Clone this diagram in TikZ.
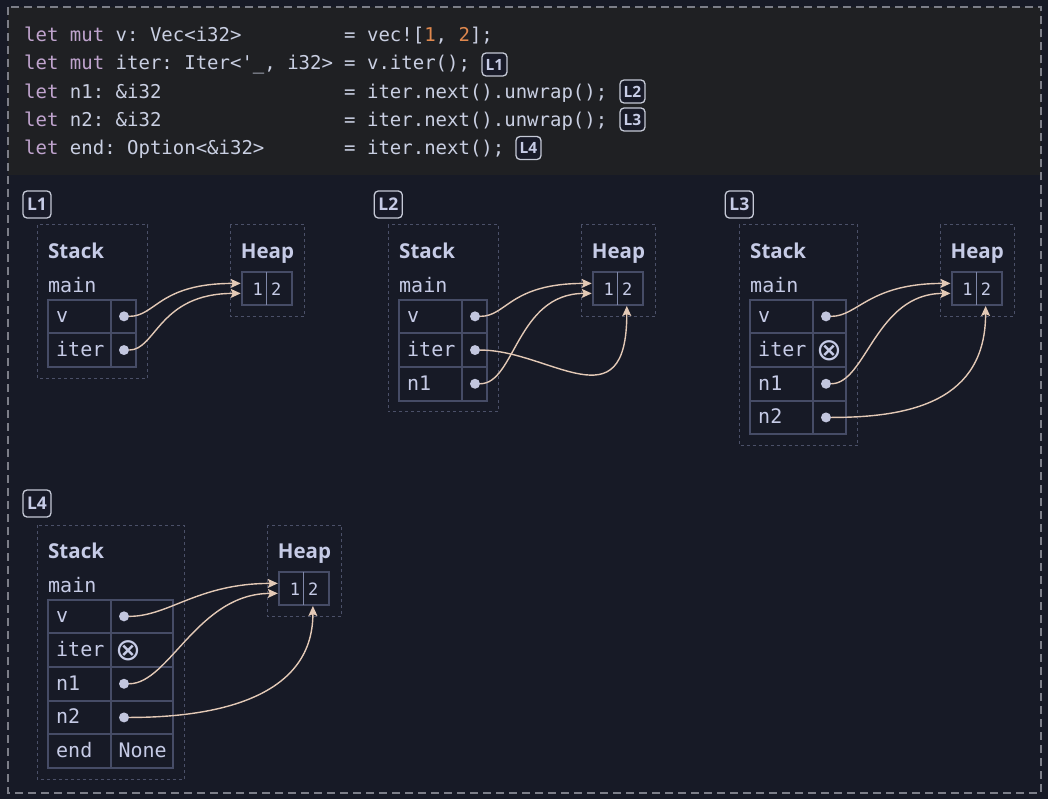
\documentclass[tikz,border=0pt]{standalone}
\usepackage{fontspec}
\setmainfont{Noto Sans}
\newfontfamily\cmono{DejaVu Sans Mono}[Ligatures=TeXOff]
\newfontfamily\symfont{DejaVu Sans}
\IfFontExistsTF{Noto Sans Bold}{\newfontfamily\tfont{Noto Sans Bold}}{%
  \IfFontExistsTF{Open Sans Bold}{\newfontfamily\tfont{Open Sans Bold}}{%
    \newfontfamily\tfont{Noto Sans}[FakeBold=2.5]}}
\usetikzlibrary{arrows.meta}
\definecolor{pagebg}{HTML}{171A26}
\definecolor{codebg}{HTML}{1F2023}
\definecolor{outerc}{HTML}{7C7E88}
\definecolor{framec}{HTML}{4B5068}
\definecolor{cellc}{HTML}{464C66}
\definecolor{divc}{HTML}{8088A8}
\definecolor{txt}{HTML}{C6CBE6}
\definecolor{codefg}{HTML}{C9CFE2}
\definecolor{kwc}{HTML}{C0A4CE}
\definecolor{numc}{HTML}{E0884E}
\definecolor{dotc}{HTML}{C2C6DE}
\definecolor{arrowc}{HTML}{E3C9B6}
\definecolor{badgeline}{HTML}{C5C9D6}
\definecolor{badgebg}{HTML}{181A28}
\newcommand\kw[1]{\textcolor{kwc}{#1}}
\newcommand\nm[1]{\textcolor{numc}{#1}}
\tikzset{
  codetxt/.style={anchor=base west, inner sep=0pt, font=\cmono\frenchspacing\fontsize{19}{19}\selectfont, text=codefg},
  badge/.style={draw=badgeline, line width=1.3pt, rounded corners=4pt, fill=badgebg, text=txt,
    font=\tfont\fontsize{15.5}{15.5}\selectfont, inner sep=0pt, minimum width=25pt, minimum height=23pt},
  sbadge/.style={badge, minimum width=28pt, minimum height=27pt, font=\tfont\fontsize{17.5}{17.5}\selectfont},
  framebox/.style={draw=framec, dash pattern=on 3pt off 3pt, line width=1pt},
  cellline/.style={draw=cellc, line width=2pt},
  divline/.style={draw=divc, line width=0.8pt},
  title/.style={anchor=base west, font=\tfont\fontsize{20.5}{20.5}\selectfont, text=txt, inner sep=0pt},
  lbl/.style={anchor=base west, font=\cmono\fontsize{20}{20}\selectfont, text=txt, inner sep=0pt},
  digit/.style={anchor=base, font=\cmono\fontsize{17}{17}\selectfont, text=txt, inner sep=0pt},
  dot/.style={circle, fill=dotc, inner sep=0pt, minimum size=10pt},
  ptr/.style={draw=arrowc, line width=1.4pt, -{Stealth[length=10pt,width=9pt,inset=2pt]}},
  gone/.style={font=\symfont\fontsize{31}{31}\selectfont, text=txt, inner sep=0pt},
}
% #1 name prefix, #2 right column width, #3 number of rows
\newcommand\StackFrame[3]{%
  \draw[framebox] (37.3,225) rectangle ({110.8+#2+11.6},{299.5+#3*33.7+11.3});
  \node[title] (#1-stack) at (48,258.3) {Stack};
  \node[lbl] (#1-main) at (48,292) {main};
  \draw[cellline] (47.8,299.5) rectangle ({110.8+#2},{299.5+#3*33.7});
  \draw[cellline] (110.8,299.5) -- (110.8,{299.5+#3*33.7});
  \foreach \k in {2,...,#3} {\draw[cellline] (47.8,{299.5+(\k-1)*33.7}) -- ({110.8+#2},{299.5+(\k-1)*33.7});}
}
% #1 name prefix, #2 heap box left
\newcommand\HeapBox[2]{%
  \draw[framebox] (#2,225) rectangle ({#2+74},316.7);
  \node[title, anchor=base] (#1-heap) at ({#2+37.2},258.3) {Heap};
  \draw[cellline] ({#2+11.5},271.7) rectangle ({#2+62.1},305);
  \draw[divline] ({#2+36},271.7) -- ({#2+36},305);
  \node[digit] (#1-one) at ({#2+27.6},295.6) {1};
  \node[digit] (#1-two) at ({#2+46},295.6) {2};
  \coordinate (#1-up) at ({#2+10.5},283.4);
  \coordinate (#1-lo) at ({#2+10.5},293.4);
  \coordinate (#1-bt) at ({#2+45.6},306);
}
\begin{document}
\begin{tikzpicture}[x=1pt,y=-1pt]
\useasboundingbox (0,0) rectangle (1048,799);
\fill[pagebg] (0,0) rectangle (1048,799);
\fill[codebg] (7.5,7) rectangle (1041,175);
\draw[outerc, line width=2pt, dash pattern=on 8pt off 5pt] (7.5,7) rectangle (1041,792.5);

% code
\node[codetxt] (c1l) at (24,41.5) {\kw{let} \kw{mut} v: Vec<i32>};
\node[codetxt] (c2l) at (24,69.8) {\kw{let} \kw{mut} iter: Iter<'\_, i32>};
\node[codetxt] (c3l) at (24,98.2) {\kw{let} n1: \&i32};
\node[codetxt] (c4l) at (24,126.5) {\kw{let} n2: \&i32};
\node[codetxt] (c5l) at (24,154.8) {\kw{let} end: Option<\&i32>};
\node[codetxt] (c1r) at (344,41.5) {= vec![\nm{1}, \nm{2}];};
\node[codetxt] (c2r) at (344,69.8) {= v.iter();};
\node[codetxt] (c3r) at (344,98.2) {= iter.next().unwrap();};
\node[codetxt] (c4r) at (344,126.5) {= iter.next().unwrap();};
\node[codetxt] (c5r) at (344,154.8) {= iter.next();};
\node[badge] (cb1) at (494.5,64.5) {L1};
\node[badge] (cb2) at (632.5,91.5) {L2};
\node[badge] (cb3) at (632.5,119.5) {L3};
\node[badge] (cb4) at (528.5,148) {L4};

% L1
\begin{scope}
\node[sbadge] (a-badge) at (37,204.5) {L1};
\StackFrame{a}{25.3}{2}
\node[lbl] (a-v) at (56,322.85) {v};
\node[lbl] (a-iter) at (56,356.55) {iter};
\node[dot] (a-vd) at (124,316.35) {};
\node[dot] (a-id) at (124,350.05) {};
\HeapBox{a}{230.2}
\draw[ptr] (a-vd) .. controls +(32,0) and +(-82,0) .. (a-up);
\draw[ptr] (a-id) .. controls +(32,0) and +(-82,0) .. (a-lo);
\end{scope}

% L2
\begin{scope}[shift={(351,0)}]
\node[sbadge] (b-badge) at (37.3,204.5) {L2};
\StackFrame{b}{25.3}{3}
\node[lbl] (b-v) at (56,322.85) {v};
\node[lbl] (b-iter) at (56,356.55) {iter};
\node[lbl] (b-n1) at (56,390.25) {n1};
\node[dot] (b-vd) at (124,316.35) {};
\node[dot] (b-id) at (124,350.05) {};
\node[dot] (b-nd) at (124,383.75) {};
\HeapBox{b}{230.2}
\draw[ptr] (b-vd) .. controls +(32,0) and +(-82,0) .. (b-up);
\draw[ptr] (b-id) .. controls +(75,0) and +(0,120) .. (b-bt);
\draw[ptr] (b-nd) .. controls +(40,0) and +(-75,0) .. (b-lo);
\end{scope}

% L3
\begin{scope}[shift={(702,0)}]
\node[sbadge] (c-badge) at (37.3,204.5) {L3};
\StackFrame{c}{33.5}{4}
\node[lbl] (c-v) at (56,322.85) {v};
\node[lbl] (c-iter) at (56,356.55) {iter};
\node[lbl] (c-n1) at (56,390.25) {n1};
\node[lbl] (c-n2) at (56,423.95) {n2};
\node[dot] (c-vd) at (124,316.35) {};
\node[gone] (c-ix) at (127.5,351) {⊗};
\node[dot] (c-n1d) at (124,383.75) {};
\node[dot] (c-n2d) at (124,417.45) {};
\HeapBox{c}{238}
\draw[ptr] (c-vd) .. controls +(32,0) and +(-82,0) .. (c-up);
\draw[ptr] (c-n1d) .. controls +(40,0) and +(-75,0) .. (c-lo);
\draw[ptr] (c-n2d) .. controls +(85,0) and +(0,95) .. (c-bt);
\end{scope}

% L4
\begin{scope}[shift={(0,300)}]
\node[sbadge] (d-badge) at (37,203.5) {L4};
\StackFrame{d}{61.8}{5}
\node[lbl] (d-v) at (56,322.85) {v};
\node[lbl] (d-iter) at (56,356.55) {iter};
\node[lbl] (d-n1) at (56,390.25) {n1};
\node[lbl] (d-n2) at (56,423.95) {n2};
\node[lbl] (d-end) at (56,457.65) {end};
\node[dot] (d-vd) at (124,316.35) {};
\node[gone] (d-ix) at (128.3,351) {⊗};
\node[dot] (d-n1d) at (124,383.75) {};
\node[dot] (d-n2d) at (124,417.45) {};
\node[lbl] (d-none) at (118.3,457.65) {None};
\HeapBox{d}{267.3}
\draw[ptr] (d-vd) .. controls +(45,0) and +(-80,0) .. (d-up);
\draw[ptr] (d-n1d) .. controls +(45,0) and +(-80,0) .. (d-lo);
\draw[ptr] (d-n2d) .. controls +(85,0) and +(0,95) .. (d-bt);
\end{scope}
\end{tikzpicture}
\end{document}
